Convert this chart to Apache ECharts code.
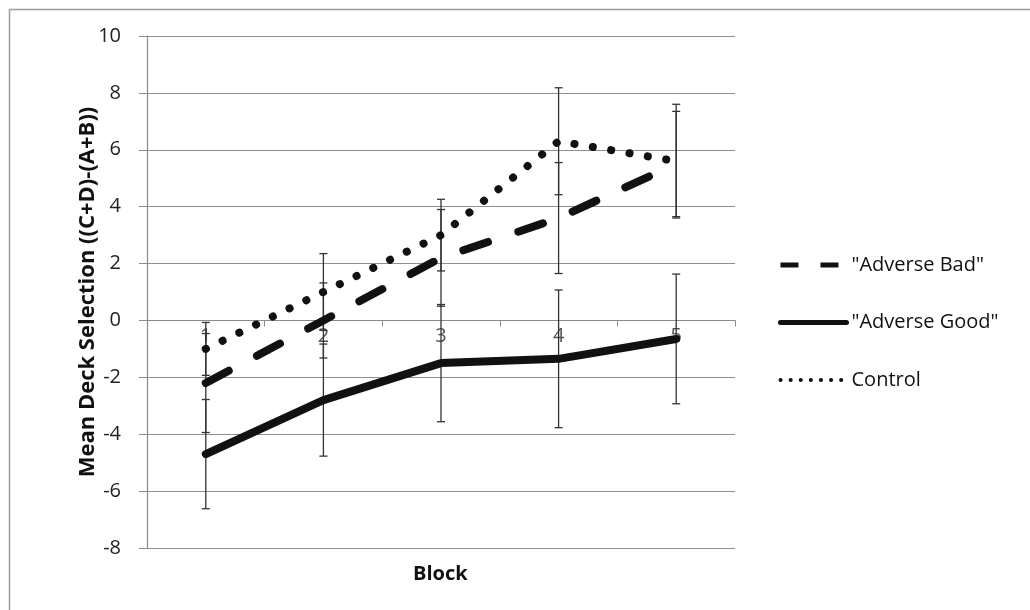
<!DOCTYPE html>
<html>
<head>
<meta charset="utf-8">
<script src="https://cdn.jsdelivr.net/npm/echarts@6/dist/echarts.min.js"></script>
<style>
html,body{margin:0;padding:0;background:#fff;}
#chart{width:1030px;height:610px;}
</style>
</head>
<body>
<div id="chart"></div>
<script>
const categories = ['1', '2', '3', '4', '5'];
const seriesNames = ['"Adverse Bad"', '"Adverse Good"', 'Control'];
const adverseBad = [-2.2, 0.0, 2.2, 3.6, 5.5];
const adverseBadErr = [1.74, 1.32, 1.7, 1.95, 1.85];
const adverseGood = [-4.7, -2.8, -1.5, -1.35, -0.65];
const adverseGoodErr = [1.92, 1.97, 2.06, 2.42, 2.28];
const control = [-1.0, 1.0, 3.0, 6.3, 5.6];
const controlErr = [0.93, 1.35, 1.26, 1.88, 2.0];
const yTicks = { min: -8, max: 10, interval: 2 };

const FONT = '"Open Sans", sans-serif';
const GRID = { left: 147, right: 295, top: 36, bottom: 62 };
const plotH = 610 - GRID.top - GRID.bottom;
// shift x axis from the bottom of the grid up to the y=0 line
const xAxisOffset = -plotH * (0 - yTicks.min) / (yTicks.max - yTicks.min);

const chart = echarts.init(document.getElementById('chart'), null, { renderer: 'canvas' });

function errData(means, errs) {
  return means.map((m, i) => [i, m - errs[i], m + errs[i]]);
}
function errSeries(name, means, errs) {
  return {
    name: name + ' err',
    type: 'custom',
    z: 1,
    silent: true,
    data: errData(means, errs),
    renderItem: function (params, api) {
      const x = api.value(0);
      const lo = api.coord([x, api.value(1)]);
      const hi = api.coord([x, api.value(2)]);
      const w = 4;
      const st = { stroke: '#333', lineWidth: 1.3 };
      return {
        type: 'group',
        children: [
          { type: 'line', shape: { x1: lo[0], y1: lo[1], x2: hi[0], y2: hi[1] }, style: st },
          { type: 'line', shape: { x1: lo[0] - w, y1: lo[1], x2: lo[0] + w, y2: lo[1] }, style: st },
          { type: 'line', shape: { x1: hi[0] - w, y1: hi[1], x2: hi[0] + w, y2: hi[1] }, style: st }
        ]
      };
    }
  };
}

const hiddenSymbol = { opacity: 0, color: '#111' };

const option = {
  backgroundColor: '#fff',
  animation: false,
  color: ['#111', '#111', '#111'],
  grid: Object.assign({ containLabel: false }, GRID),
  legend: {
    orient: 'vertical',
    left: 773,
    top: 250,
    itemWidth: 66,
    itemHeight: 14,
    itemGap: 37.5,
    textStyle: { fontFamily: FONT, fontSize: 20, color: '#111' },
    data: [
      { name: seriesNames[0], itemStyle: hiddenSymbol, lineStyle: { width: 5, type: [18, 22], color: '#111', cap: 'butt' } },
      { name: seriesNames[1], itemStyle: hiddenSymbol, lineStyle: { width: 5, type: 'solid', color: '#111' } },
      { name: seriesNames[2], itemStyle: hiddenSymbol, lineStyle: { width: 4, type: [0.1, 10], cap: 'round', color: '#111' } }
    ]
  },
  xAxis: {
    type: 'category',
    data: categories,
    boundaryGap: true,
    offset: xAxisOffset,
    axisLine: { onZero: false, lineStyle: { color: '#8a8a8a', width: 1.2 } },
    axisTick: { show: true, inside: false, length: 6, lineStyle: { color: '#8a8a8a' } },
    axisLabel: { fontFamily: FONT, fontSize: 20, color: '#555', margin: 6 },
    splitLine: { show: false }
  },
  yAxis: {
    type: 'value',
    min: yTicks.min,
    max: yTicks.max,
    interval: yTicks.interval,
    name: 'Mean Deck Selection ((C+D)-(A+B))',
    nameLocation: 'middle',
    nameGap: 48,
    nameMoveOverlap: false,
    nameTextStyle: { fontFamily: FONT, fontSize: 22, fontWeight: 'bold', color: '#111' },
    axisLine: { show: true, lineStyle: { color: '#8a8a8a', width: 1.2 } },
    axisTick: { show: true, length: 8, lineStyle: { color: '#8a8a8a' } },
    axisLabel: { fontFamily: FONT, fontSize: 20, color: '#222', margin: 26 },
    splitLine: { show: true, lineStyle: { color: '#8f8f8f', width: 1.2 } }
  },
  series: [
    errSeries('bad', adverseBad, adverseBadErr),
    errSeries('good', adverseGood, adverseGoodErr),
    errSeries('control', control, controlErr),
    {
      name: seriesNames[0], type: 'line', data: adverseBad, z: 3,
      symbol: 'none', itemStyle: { color: '#111' },
      lineStyle: { color: '#111', width: 8, type: [26, 32], cap: 'round' }
    },
    {
      name: seriesNames[1], type: 'line', data: adverseGood, z: 3,
      symbol: 'none', itemStyle: { color: '#111' },
      lineStyle: { color: '#111', width: 8, type: 'solid', cap: 'round', join: 'round' }
    },
    {
      name: seriesNames[2], type: 'line', data: control, z: 3,
      symbol: 'none', itemStyle: { color: '#111' },
      lineStyle: { color: '#111', width: 8, type: [0.1, 18.5], cap: 'round' }
    }
  ],
  graphic: [
    { type: 'line', shape: { x1: 9.5, y1: 9.5, x2: 1030, y2: 9.5 }, style: { stroke: '#9a9a9a', lineWidth: 1.5 } },
    { type: 'line', shape: { x1: 9.5, y1: 9.5, x2: 9.5, y2: 610 }, style: { stroke: '#9a9a9a', lineWidth: 1.5 } },
    { type: 'text', left: 413, top: 564, style: { text: 'Block', fontFamily: FONT, fontSize: 20, fontWeight: 'bold', fill: '#111' } }
  ]
};
chart.setOption(option);
</script>
</body>
</html>
